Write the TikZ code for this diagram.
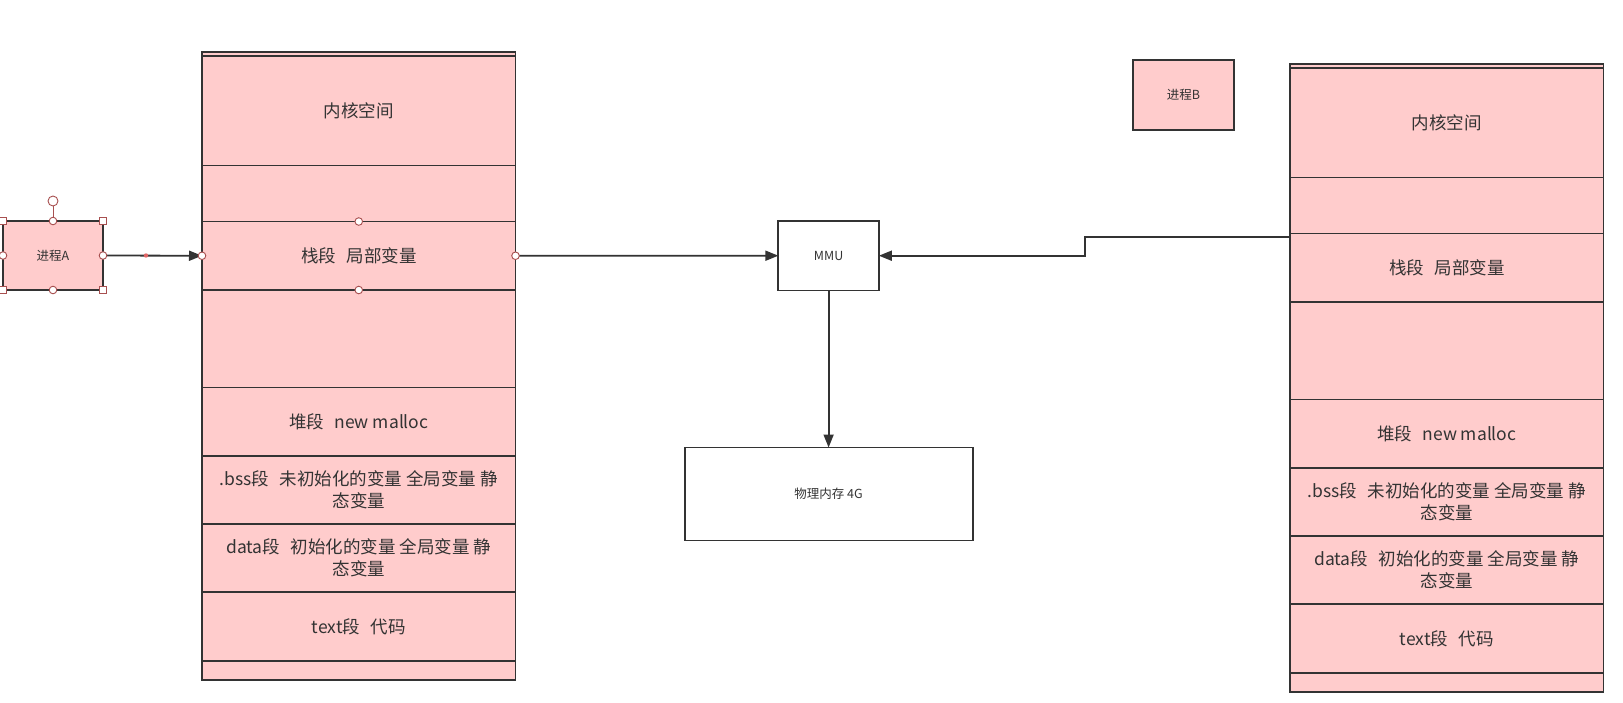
\documentclass[tikz,border=0pt]{standalone}
\usepackage{fontspec}
\setmainfont{Noto Sans CJK SC}
\usetikzlibrary{arrows.meta,calc}
\definecolor{pinkc}{HTML}{FFCCCC}
\definecolor{strokec}{HTML}{333333}
\definecolor{textc}{HTML}{333333}
\definecolor{handlec}{HTML}{A85050}
\definecolor{dotc}{HTML}{E06666}
\tikzset{
  segbox/.style={rectangle, fill=pinkc, inner sep=0pt, outer sep=0pt,
    minimum width=313.5pt, text=textc, align=center, font=\fontsize{17.5}{22}\selectfont},
  segline/.style={draw=strokec, line width=1.8pt},
  colframe/.style={draw=strokec, fill=pinkc, line width=1.8pt},
  procbox/.style={rectangle, draw=strokec, fill=pinkc, line width=1.8pt, inner sep=0pt, outer sep=0pt,
    text=textc, font=\fontsize{12.5}{14}\selectfont},
  whitebox/.style={rectangle, draw=strokec, fill=white, line width=1.8pt, inner sep=0pt, outer sep=0pt,
    text=textc, font=\fontsize{12.5}{14}\selectfont},
  conn/.style={draw=strokec, line width=1.8pt, -{Triangle[length=13pt,width=10pt]}},
  handlecirc/.style={draw=handlec, fill=white, line width=0.9pt},
}
\newcommand\memseg[4]{%
  \node[segbox, minimum height={(#3-#2)*1pt}] (#1) at (358.75,{(#2+#3)/2}) {#4};}
\newcommand\memcol[1]{%
  \draw[colframe] (202,52) rectangle (515.5,680);
  \memseg{#1k}{56}{165.5}{内核空间}
  \memseg{#1ea}{165.5}{221.5}{}
  \memseg{#1s}{221.5}{290}{栈段\hspace{0.6em}局部变量}
  \memseg{#1eb}{290}{387.5}{}
  \memseg{#1h}{387.5}{456}{堆段\hspace{0.6em}new malloc}
  \memseg{#1b}{456}{524}{.bss段\hspace{0.6em}未初始化的变量 全局变量 静\\态变量}
  \memseg{#1d}{524}{592}{data段\hspace{0.6em}初始化的变量 全局变量 静\\态变量}
  \memseg{#1t}{592}{661}{text段\hspace{0.6em}代码}
  \memseg{#1z}{661}{680}{}
  \foreach \n in {k,ea,s,eb,h,b,d,t,z}
    \draw[segline] (#1\n.north west) rectangle (#1\n.south east);
  \draw[segline] (202,52) rectangle (515.5,680);
}
\begin{document}
\begin{tikzpicture}[x=1pt,y=-1pt]
\useasboundingbox (0,0) rectangle (1623,702);
\fill[white] (0,0) rectangle (1623,702);

% left memory column
\memcol{A}
% right memory column
\begin{scope}[shift={(1088,12)}]
\memcol{B}
\end{scope}

% processes
\node[procbox, minimum width=100pt, minimum height=69pt] (pA) at (53,255.5) {进程A};
\node[procbox, minimum width=101pt, minimum height=70pt] (pB) at (1183.4,95.2) {进程B};

% MMU and physical memory
\node[whitebox, minimum width=100.5pt, minimum height=69.5pt] (mmu) at (828.6,255.7) {MMU};
\node[whitebox, minimum width=288pt, minimum height=93pt] (phys) at (828.6,494) {物理内存 4G};

% connectors
\draw[conn] (pA.east) -- (As.west);
\draw[conn] (As.east) -- (mmu.west);
\coordinate (bstart) at ([yshift=-3.5pt]Bs.north west);
\draw[conn] (bstart) -- ++(-205,0) |- (mmu.east);
\draw[conn] (mmu.south) -- (phys.north);

% selection handles (editor marks)
\fill[dotc] (146,255.5) circle (2.2);
\draw[handlec, line width=0.9pt] (53,206) -- (pA.north);
\draw[handlecirc] (53,201) circle (5);
\foreach \a in {north west, north east, south west, south east}
  \draw[handlecirc] ($(pA.\a)+(-3.5,-3.5)$) rectangle ++(7,7);
\foreach \a in {north, south, east, west}
  \draw[handlecirc] (pA.\a) circle (3.8);
\foreach \a in {north, south, east, west}
  \draw[handlecirc] (As.\a) circle (3.8);
\end{tikzpicture}
\end{document}
